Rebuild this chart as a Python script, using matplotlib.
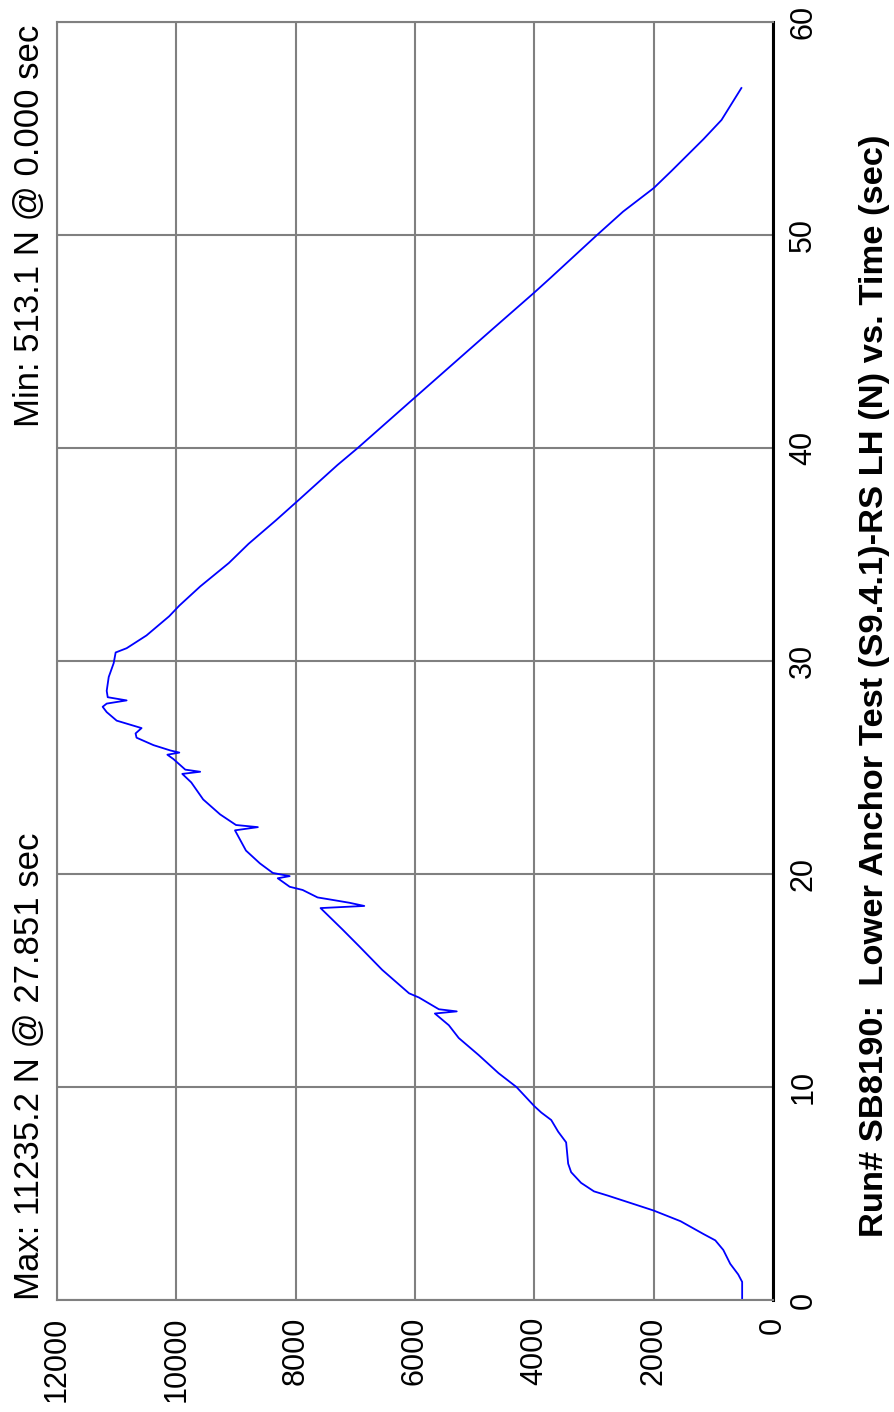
import matplotlib.pyplot as plt

# force (N) vs time (sec)
time_s = [0.0, 0.85, 1.2, 1.7, 2.35, 2.8, 3.1, 3.7, 4.2, 4.55, 4.9, 5.1, 5.5, 6.0, 6.4,
          7.4, 7.9, 8.45, 8.8, 9.1, 10.0, 10.65, 11.5, 12.3, 12.9, 13.45, 13.55, 13.65,
          14.2, 14.4, 15.5, 16.6, 17.4, 18.4, 18.5, 18.65, 18.8, 18.9, 19.25, 19.4, 19.8,
          19.9, 20.05, 20.5, 21.1, 22.05, 22.2, 22.3, 22.8, 23.5, 24.3, 24.7, 24.8, 24.9,
          25.4, 25.6, 25.7, 25.8, 26.05, 26.4, 26.6, 26.85, 27.2, 27.6, 27.85, 28.0, 28.15,
          28.3, 28.6, 29.25, 29.9, 30.4, 30.6, 31.2, 32.1, 32.6, 33.5, 34.6, 35.5, 36.6,
          37.6, 39.2, 40.0, 42.4, 44.4, 45.5, 47.3, 48.0, 50.0, 51.1, 52.2, 53.0, 54.5,
          55.4, 56.9]
force_n = [517, 517, 583, 717, 833, 967, 1167, 1550, 2000, 2383, 2767, 3000, 3217, 3383, 3433,
           3467, 3600, 3717, 3883, 4000, 4300, 4600, 4933, 5267, 5433, 5667, 5300, 5600,
           5933, 6100, 6550, 6933, 7217, 7583, 6850, 7100, 7417, 7633, 7883, 8100, 8300,
           8100, 8383, 8600, 8833, 9017, 8633, 9000, 9267, 9550, 9750, 9900, 9600, 9850,
           10050, 10150, 9950, 10100, 10383, 10667, 10683, 10583, 11000, 11167, 11235, 11167, 10833,
           11150, 11167, 11133, 11050, 11017, 10833, 10500, 10120, 9950, 9600, 9120, 8790, 8333,
           7933, 7300, 6960, 5990, 5180, 4734, 4000, 3724, 2949, 2512, 2000, 1704, 1165,
           863, 530]

force_ticks = [0, 2000, 4000, 6000, 8000, 10000, 12000]
time_ticks = [0, 10, 20, 30, 40, 50, 60]

max_label = "Max: 11235.2 N @ 27.851 sec"
min_label = "Min: 513.1 N @ 0.000 sec"
title = "Run# SB8190:  Lower Anchor Test (S9.4.1)-RS LH (N) vs. Time (sec)"

plt.rcParams['font.family'] = ['Liberation Sans', 'DejaVu Sans']

W, H = 895, 1412
fig = plt.figure(figsize=(W / 100, H / 100), dpi=100)
# chart is drawn turned on its side: force runs right-to-left, time bottom-to-top
ax = fig.add_axes([57 / W, 1 - 1300 / H, (773 - 57) / W, (1300 - 22) / H])

ax.plot(force_n, time_s, color='#0000ff', lw=1.3)
ax.set_xlim(12000, 0)
ax.set_ylim(0, 60)

ax.set_xticks(force_ticks)
ax.set_xticklabels([str(v) for v in force_ticks], rotation=90)
ax.yaxis.tick_right()
ax.set_yticks(time_ticks)
ax.set_yticklabels([str(v) for v in time_ticks], rotation=90)
for lab in ax.get_yticklabels():
    lab.set_va('center')

ax.tick_params(length=0, labelsize=22, colors='black')
ax.tick_params(axis='x', pad=12)
ax.tick_params(axis='y', pad=11)

ax.grid(True, color='#808080', lw=1.5)
for s in ['left', 'top', 'bottom']:
    ax.spines[s].set_color('#808080')
    ax.spines[s].set_linewidth(1.5)
ax.spines['right'].set_color('black')
ax.spines['right'].set_linewidth(2.2)

fig.text(30 / W, 1 - 1300 / H, max_label, rotation=90, ha='center', va='bottom', fontsize=25)
fig.text(30 / W, 1 - 25 / H, min_label, rotation=90, ha='center', va='top', fontsize=25)
fig.text(875 / W, 1 - 686 / H, title, rotation=90, ha='center', va='center',
         fontsize=24.8, fontweight='bold')

fig.savefig('out.png', dpi=100)
